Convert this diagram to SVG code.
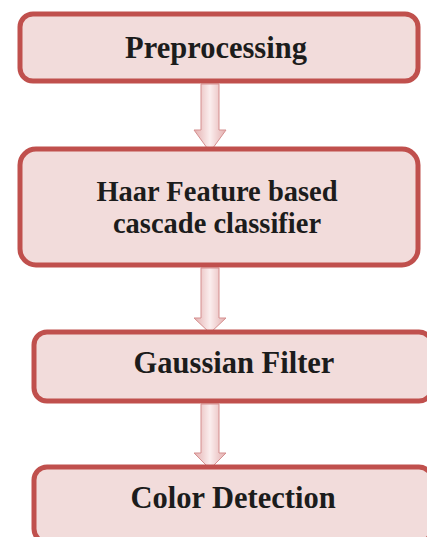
<svg xmlns="http://www.w3.org/2000/svg" width="427" height="537" viewBox="0 0 427 537">
<defs>
<linearGradient id="ag" x1="0" y1="0" x2="1" y2="0">
<stop offset="0" stop-color="#e3aeae"/>
<stop offset="0.5" stop-color="#fbeeee"/>
<stop offset="1" stop-color="#e3aeae"/>
</linearGradient>
<style>
.box{fill:#f2dcdb;stroke:#c0504d;stroke-width:5}
.lbl{font-family:"Liberation Serif","Times New Roman",serif;font-weight:bold;font-size:30.5px;fill:#1c1c1c;text-anchor:middle}
.sm{font-size:28.5px}
.arr{fill:url(#ag);stroke:#d58f8f;stroke-width:1}
</style>
</defs>
<rect width="427" height="537" fill="#ffffff"/>
<g id="connectors">
<path class="arr" d="M201,84 L219,84 L219,130 L226,130 L210,152 L194,130 L201,130 Z"/>
<path class="arr" d="M201,268 L219,268 L219,318 L226,318 L210,333 L194,318 L201,318 Z"/>
<path class="arr" d="M201,404 L219,404 L219,453 L226,453 L210,469 L194,453 L201,453 Z"/>
</g>
<g id="n1">
<rect class="box" x="20" y="14" width="398" height="67" rx="13"/>
<text class="lbl" x="216" y="58">Preprocessing</text>
</g>
<g id="n2">
<rect class="box" x="20" y="149" width="398" height="116" rx="16"/>
<text class="lbl sm" x="217" y="201">Haar Feature based</text>
<text class="lbl sm" x="217" y="233">cascade classifier</text>
</g>
<g id="n3">
<rect class="box" x="34" y="332" width="398" height="69" rx="13"/>
<text class="lbl" x="234" y="373">Gaussian Filter</text>
</g>
<g id="n4">
<rect class="box" x="34" y="467" width="398" height="75" rx="13"/>
<text class="lbl" x="233" y="508">Color Detection</text>
</g>
</svg>
